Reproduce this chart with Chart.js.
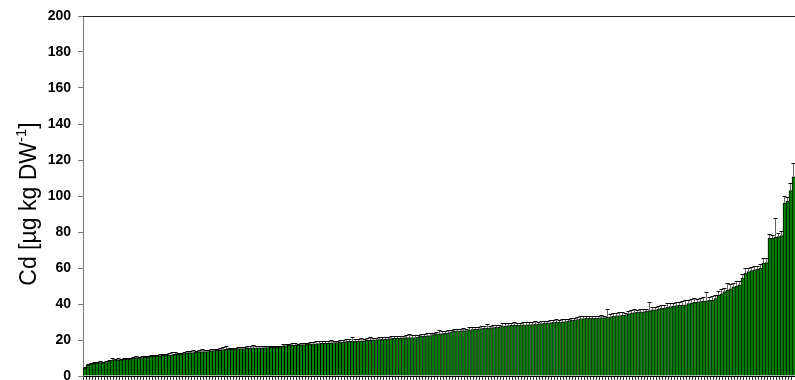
<!DOCTYPE html>
<html>
<head>
<meta charset="utf-8">
<script src="https://cdn.jsdelivr.net/npm/chart.js@4.4.0/dist/chart.umd.min.js"></script>
<style>
  html, body { margin: 0; padding: 0; background: #fff; }
  #wrap { width: 795px; height: 380px; }
</style>
</head>
<body>
<div id="wrap"><canvas id="myChart" width="795" height="380"></canvas></div>
<script>
// Cd content per sample, sorted ascending
var cdValues = [
  4.3, 6.1, 6.7, 7.0, 7.3, 7.4, 7.4, 7.5, 8.2, 8.9,
  8.9, 9.0, 9.0, 9.3, 9.4, 9.5, 9.8, 9.8, 9.9, 10.3,
  10.4, 10.5, 11.0, 11.1, 11.1, 11.2, 11.6, 11.7, 11.8, 11.8,
  12.1, 12.2, 12.3, 12.4, 12.9, 13.0, 13.0, 13.1, 13.4, 13.5,
  13.5, 13.6, 14.0, 14.1, 14.2, 14.3, 14.7, 14.8, 14.9, 15.0,
  15.1, 15.2, 15.2, 15.3, 15.5, 15.6, 15.6, 15.7, 15.7, 15.7,
  15.8, 15.8, 15.9, 15.9, 16.0, 16.2, 16.6, 16.9, 17.0, 17.0,
  17.1, 17.2, 17.3, 17.4, 17.6, 17.8, 17.9, 17.9, 18.0, 18.1,
  18.2, 18.3, 18.4, 18.5, 18.6, 18.7, 18.9, 19.1, 19.2, 19.2,
  19.3, 19.4, 19.5, 19.6, 19.9, 20.0, 20.1, 20.1, 20.3, 20.4,
  20.5, 20.6, 20.8, 20.9, 21.0, 21.1, 21.2, 21.3, 21.3, 21.4,
  21.4, 21.6, 22.0, 22.2, 22.3, 22.5, 23.0, 23.3, 23.4, 23.6,
  23.7, 23.8, 24.6, 25.0, 25.1, 25.1, 25.2, 25.3, 25.5, 25.8,
  25.9, 26.0, 26.3, 26.5, 26.6, 26.7, 26.9, 27.0, 27.2, 27.6,
  27.8, 28.0, 28.2, 28.3, 28.3, 28.3, 28.4, 28.4, 28.5, 28.6,
  28.7, 28.8, 29.1, 29.3, 29.5, 29.6, 29.8, 29.9, 30.0, 30.1,
  30.2, 30.5, 30.9, 31.1, 31.4, 31.7, 31.9, 32.0, 32.0, 32.0,
  32.1, 32.2, 32.4, 32.5, 32.6, 32.9, 33.3, 33.4, 33.6, 33.8,
  33.9, 34.4, 35.0, 35.2, 35.4, 35.6, 35.7, 35.9, 36.3, 36.7,
  36.8, 37.2, 37.6, 37.8, 38.1, 38.6, 38.9, 39.1, 39.3, 39.4,
  39.6, 40.2, 40.7, 40.9, 41.1, 41.3, 41.5, 41.8, 42.0, 42.2,
  43.0, 45.0, 45.6, 46.9, 47.8, 48.4, 49.6, 49.8, 50.6, 54.4,
  57.0, 58.0, 58.5, 59.0, 59.4, 60.0, 62.7, 63.0, 76.6, 76.6,
  77.0, 77.4, 78.0, 96.0, 97.0, 103.0, 110.7
];

// upper error (SD) per sample
var cdErrors = [
  0.5, 0.6, 0.5, 0.7, 0.6, 0.8, 0.6, 0.7, 0.9, 1.2,
  0.8, 1.0, 0.6, 0.7, 0.8, 0.6, 1.0, 1.5, 0.7, 0.6,
  0.8, 0.6, 0.9, 0.7, 0.8, 1.0, 0.6, 0.7, 0.9, 1.6,
  1.0, 0.7, 0.6, 0.8, 0.9, 1.0, 1.2, 0.7, 0.8, 1.5,
  0.7, 0.9, 0.8, 1.1, 0.8, 1.0, 1.4, 1.8, 0.9, 0.8,
  0.7, 0.8, 1.0, 0.7, 0.9, 1.1, 1.6, 1.0, 0.8, 0.9,
  0.7, 0.8, 0.6, 0.9, 0.8, 0.7, 1.0, 0.9, 0.8, 1.1,
  1.0, 0.8, 0.9, 1.2, 0.8, 1.0, 1.1, 1.3, 1.4, 1.2,
  1.0, 1.3, 1.5, 1.2, 0.9, 1.1, 1.0, 1.2, 1.4, 2.3,
  1.3, 1.2, 1.8, 1.0, 1.2, 1.4, 1.1, 1.0, 1.3, 1.1,
  1.2, 1.0, 1.4, 1.3, 1.1, 1.0, 1.2, 1.6, 2.0, 1.4,
  1.2, 1.0, 1.1, 1.3, 1.5, 1.2, 1.0, 1.3, 1.9, 1.4,
  1.2, 1.5, 1.1, 1.3, 1.0, 1.2, 1.4, 1.0, 1.6, 1.3,
  1.2, 1.1, 1.4, 1.3, 2.4, 1.2, 1.5, 1.3, 1.1, 1.6,
  1.4, 1.2, 1.5, 1.7, 1.3, 1.2, 1.6, 1.4, 1.3, 1.5,
  1.6, 1.3, 1.4, 1.5, 1.3, 1.6, 1.4, 1.7, 1.3, 1.5,
  1.2, 1.4, 1.6, 1.3, 1.5, 1.4, 1.2, 1.1, 1.3, 1.5,
  1.4, 1.2, 1.3, 1.1, 4.6, 1.3, 1.5, 1.4, 1.7, 1.5,
  1.3, 1.6, 1.4, 2.0, 1.5, 1.7, 1.4, 1.6, 5.0, 1.8,
  1.5, 1.7, 1.9, 1.6, 2.2, 1.8, 1.6, 2.0, 1.9, 2.2,
  2.4, 1.8, 2.1, 2.3, 1.9, 2.0, 2.2, 4.6, 2.0, 2.1,
  1.8, 2.2, 2.5, 2.0, 4.0, 2.6, 2.2, 2.8, 2.4, 2.0,
  2.8, 1.8, 2.0, 2.2, 1.9, 2.1, 2.8, 2.5, 2.4, 2.0,
  11.0, 2.2, 2.4, 3.8, 2.2, 4.0, 7.6
];

var sampleLabels = cdValues.map(function (v, i) { return 'S' + (i + 1); });
var yTicks = [0, 20, 40, 60, 80, 100, 120, 140, 160, 180, 200];
var yTitle = 'Cd [µg kg DW';
var yTitleSup = '-1';

var errorBars = {
  id: 'errorBars',
  afterDatasetsDraw: function (chart) {
    var ctx = chart.ctx;
    var y = chart.scales.y;
    var meta = chart.getDatasetMeta(0);
    var area = chart.chartArea;
    ctx.save();
    meta.data.forEach(function (bar, i) {
      var x = Math.round(bar.x) + 0.5;
      var top = y.getPixelForValue(cdValues[i]);
      var hi = Math.round(y.getPixelForValue(cdValues[i] + cdErrors[i])) + 0.5;
      ctx.lineWidth = 1;
      ctx.strokeStyle = '#666';
      ctx.beginPath();
      ctx.moveTo(x, top);
      ctx.lineTo(x, hi);
      ctx.stroke();
      ctx.strokeStyle = '#000';
      ctx.beginPath();
      ctx.moveTo(x - 2, hi);
      ctx.lineTo(x + 2, hi);
      ctx.stroke();
    });
    // top frame line
    ctx.strokeStyle = '#222';
    ctx.beginPath();
    ctx.moveTo(area.left, Math.round(area.top) + 0.5);
    ctx.lineTo(area.right, Math.round(area.top) + 0.5);
    ctx.stroke();

    // rotated axis title with superscript
    var big = '23px Arial, "Liberation Sans", sans-serif';
    var small = '15px Arial, "Liberation Sans", sans-serif';
    ctx.fillStyle = '#000';
    ctx.textBaseline = 'alphabetic';
    ctx.textAlign = 'left';
    ctx.font = big;
    var w1 = ctx.measureText(yTitle).width;
    var w3 = ctx.measureText(']').width;
    ctx.font = small;
    var w2 = ctx.measureText(yTitleSup).width;
    var total = w1 + w2 + w3;
    ctx.translate(36, 204 + total / 2);
    ctx.rotate(-Math.PI / 2);
    ctx.font = big;
    ctx.fillText(yTitle, 0, 0);
    ctx.font = small;
    ctx.fillText(yTitleSup, w1, -10);
    ctx.font = big;
    ctx.fillText(']', w1 + w2, 0);
    ctx.restore();
  }
};

var ctx = document.getElementById('myChart').getContext('2d');
var chart = new Chart(ctx, {
  type: 'bar',
  data: {
    labels: sampleLabels,
    datasets: [{
      label: 'Cd',
      data: cdValues,
      backgroundColor: '#008000',
      borderColor: '#000',
      borderWidth: { top: 1, left: 1, right: 0, bottom: 0 },
      borderSkipped: false,
      barPercentage: 1,
      categoryPercentage: 1
    }]
  },
  options: {
    responsive: false,
    animation: false,
    layout: { padding: { top: 16, right: 0, bottom: 0, left: 0 } },
    plugins: {
      legend: { display: false },
      tooltip: { enabled: false }
    },
    scales: {
      x: {
        ticks: { display: false, autoSkip: false },
        grid: { drawOnChartArea: false, drawTicks: true, tickLength: 4, color: '#333', offset: true },
        border: { color: '#000' },
        afterFit: function (scale) { scale.height = 4; }
      },
      y: {
        min: 0,
        max: 200,
        afterBuildTicks: function (scale) {
          scale.ticks = yTicks.map(function (v) { return { value: v }; });
        },
        ticks: {
          color: '#000',
          padding: 7,
          font: { family: 'Arial, "Liberation Sans", sans-serif', size: 14, weight: 'bold' }
        },
        grid: { drawOnChartArea: false, tickLength: 5, color: '#777' },
        border: { color: '#777' },
        afterFit: function (scale) {
          scale.width = 83;
          scale.paddingTop = 0;
          scale.paddingBottom = 0;
        }
      }
    }
  },
  plugins: [errorBars]
});
</script>
</body>
</html>
